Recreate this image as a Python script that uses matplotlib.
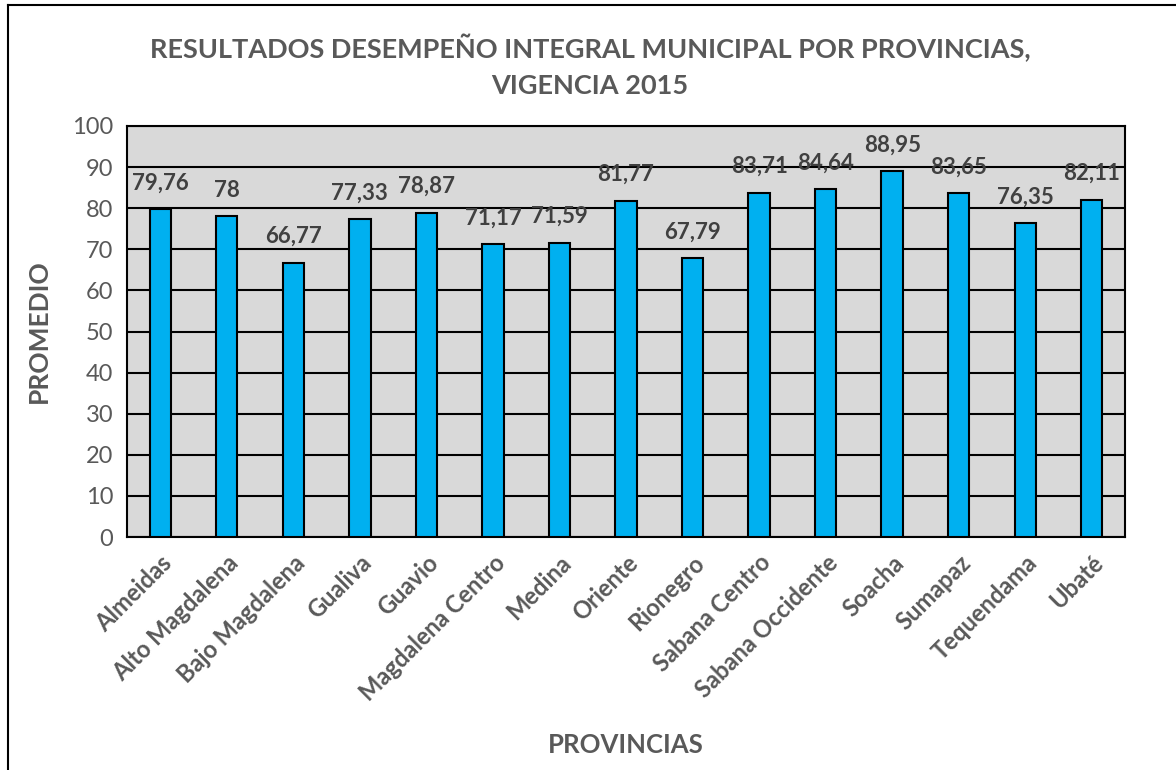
import matplotlib
matplotlib.use("Agg")
import matplotlib.pyplot as plt
import numpy as np
from matplotlib.lines import Line2D

provincias = ["Almeidas", "Alto Magdalena", "Bajo Magdalena", "Gualiva", "Guavio",
              "Magdalena Centro", "Medina", "Oriente", "Rionegro", "Sabana Centro",
              "Sabana Occidente", "Soacha", "Sumapaz", "Tequendama", "Ubaté"]
promedio = [79.76, 78, 66.77, 77.33, 78.87, 71.17, 71.59, 81.77, 67.79, 83.71,
            84.64, 88.95, 83.65, 76.35, 82.11]
etiquetas = ["79,76", "78", "66,77", "77,33", "78,87", "71,17", "71,59", "81,77",
             "67,79", "83,71", "84,64", "88,95", "83,65", "76,35", "82,11"]

plt.rcParams["font.family"] = ["Lato", "DejaVu Sans"]
gris = "#595959"

fig = plt.figure(figsize=(11.76, 7.70), dpi=100)
ax = fig.add_axes([127 / 1176, 1 - 537 / 770, (1125 - 127) / 1176, (537 - 126) / 770])
ax.set_facecolor("#d9d9d9")

x = np.arange(len(provincias))
ax.bar(x, promedio, width=0.32, color="#00b0f0", edgecolor="black", linewidth=1.5, zorder=3)

for xi, v, t in zip(x, promedio, etiquetas):
    ax.annotate(t, (xi, v), xytext=(0, 19), textcoords="offset points",
                ha="center", va="center", fontsize=16, fontweight="bold", color="#404040", zorder=4)

ax.set_xlim(-0.5, len(provincias) - 0.5)
ax.set_ylim(0, 100)
ax.set_yticks(range(0, 101, 10))
ax.yaxis.grid(True, color="black", linewidth=1.5, zorder=1)
ax.set_axisbelow(True)
for s in ax.spines.values():
    s.set_color("black")
    s.set_linewidth(1.5)

ax.tick_params(axis="y", length=0, labelsize=17, labelcolor=gris, pad=10)
ax.tick_params(axis="x", length=0, labelsize=17, labelcolor=gris, pad=10)
ax.set_xticks(x)
ax.set_xticklabels(provincias, rotation=45, ha="right", rotation_mode="anchor", fontweight="bold")

ax.set_ylabel("PROMEDIO", fontsize=19, fontweight="bold", color=gris)
ax.yaxis.set_label_coords(-0.076, 0.5)
fig.text(626 / 1176, 1 - 745 / 770, "PROVINCIAS", ha="center", va="center",
         fontsize=18.5, fontweight="bold", color=gris)

fig.text(590 / 1176, 1 - 48 / 770, "RESULTADOS DESEMPEÑO INTEGRAL MUNICIPAL POR PROVINCIAS,",
         ha="center", va="center", fontsize=19.5, fontweight="bold", color=gris)
fig.text(590 / 1176, 1 - 86 / 770, "VIGENCIA 2015",
         ha="center", va="center", fontsize=19.5, fontweight="bold", color=gris)

# chart border
fig.add_artist(Line2D([8 / 1176, 8 / 1176], [0, 1 - 5 / 770], color="black", linewidth=1.5))
fig.add_artist(Line2D([8 / 1176, 1], [1 - 5 / 770, 1 - 5 / 770], color="black", linewidth=1.5))

fig.savefig("out.png", dpi=100)
